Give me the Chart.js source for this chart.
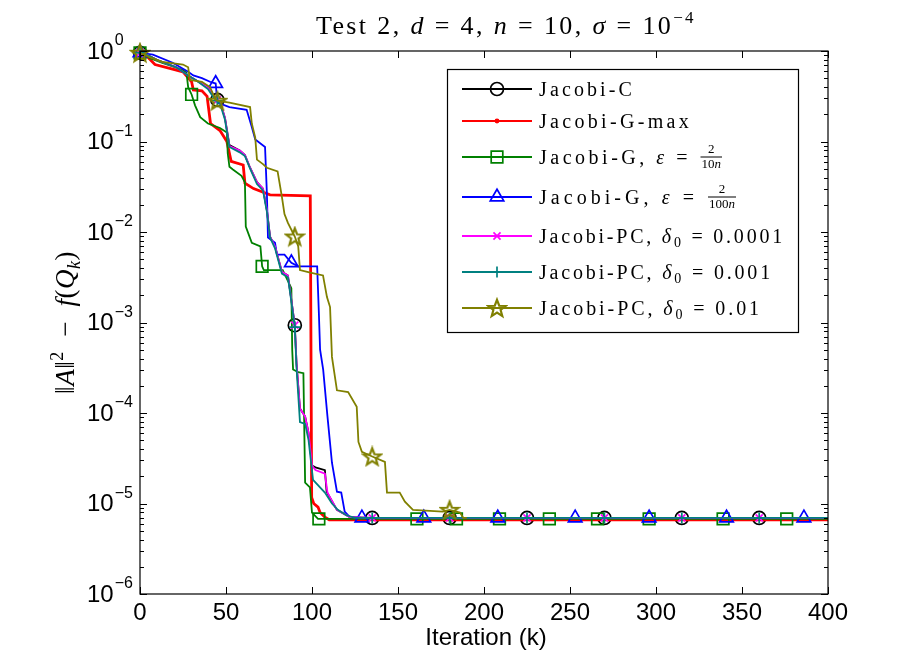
<!DOCTYPE html>
<html><head><meta charset="utf-8">
<script src="https://cdn.jsdelivr.net/npm/chart.js@4.4.1/dist/chart.umd.min.js"></script>
<style>html,body{margin:0;padding:0;background:#fff;overflow:hidden}canvas{display:block}</style>
</head><body>
<canvas id="c" width="917" height="667"></canvas>
<script>
// ---------- data ----------
const xTicks = [0, 50, 100, 150, 200, 250, 300, 350, 400];
const yTicks = [1, 1e-1, 1e-2, 1e-3, 1e-4, 1e-5, 1e-6];
const yTickExps = ['0', '\u22121', '\u22122', '\u22123', '\u22124', '\u22125', '\u22126'];
const seriesNames = ['Jacobi-C', 'Jacobi-G-max', 'Jacobi-G, \u03b5 = 2/(10n)', 'Jacobi-G, \u03b5 = 2/(100n)',
  'Jacobi-PC, \u03b40 = 0.0001', 'Jacobi-PC, \u03b40 = 0.001', 'Jacobi-PC, \u03b40 = 0.01'];

const jcIter = [0,5,10,21,28,33,39.5,43,45,46.5,49.4,52,58,61,64,68,71.5,73.8,75.6,78.5,82.5,86,88,90,91,93,96,98,100,102,107.5,108.5,114.5,122,135,180,225,270,315,360,400];
const jcVal  = [0.955,0.891,0.794,0.661,0.537,0.468,0.398,0.316,0.288,0.275,0.182,0.0912,0.0794,0.0708,0.0513,0.0355,0.0302,0.0174,0.00891,0.00692,0.00363,0.00331,0.00178,9.33e-4,3.55e-4,1.12e-4,9.12e-5,6.03e-5,2.63e-5,2.51e-5,2.34e-5,1.35e-5,8.51e-6,7.08e-6,6.92e-6,6.92e-6,6.92e-6,6.92e-6,6.92e-6,6.92e-6,6.92e-6];
const jcMarks = [0,45,90,135,180,225,270,315,360];

const rdIter = [0,3,8.7,25,30,31,36,39,41,46.5,50.5,53,60,61,66,75.6,99,99.8,101,103.5,104.7,107.5,110,400];
const rdVal  = [0.955,0.912,0.708,0.589,0.457,0.372,0.363,0.316,0.158,0.132,0.1,0.0603,0.0550,0.0347,0.0302,0.0257,0.0251,1.17e-5,1.0e-5,9.12e-6,7.94e-6,7.08e-6,6.61e-6,6.61e-6];

const grIter = [0,5.8,13,25,27,28,30,32,35,39.5,46.5,50.5,51,52,54,59,61,61.5,65,70,71,72,83,85,88,88.5,89,92,95,96,98.8,100,103.5,104,161,184,209,238,266,296,339,376,400];
const grVal  = [0.955,0.832,0.741,0.617,0.575,0.398,0.331,0.251,0.186,0.158,0.141,0.126,0.0741,0.0525,0.0490,0.0417,0.0355,0.0115,0.00759,0.00692,0.00417,0.00380,0.00380,0.00316,0.00240,5.01e-4,3.02e-4,2.82e-4,2.75e-4,1.70e-5,1.51e-5,7.94e-6,6.76e-6,6.76e-6,6.76e-6,6.76e-6,6.76e-6,6.76e-6,6.76e-6,6.76e-6,6.76e-6,6.76e-6,6.76e-6];
const grMarks = [0,30,71,104,161,184,209,238,266,296,339,376];

const blIter = [0,7.5,19,28,31,36,40.7,44,45,52,62,65,67,72.7,73.8,74.4,78.5,79.6,84,88,92,103,104,104.7,106.5,109,111.6,114.5,117,119,122,129,165,208,253,296,341,386,400];
const blVal  = [0.955,0.912,0.741,0.589,0.537,0.501,0.457,0.437,0.269,0.240,0.224,0.145,0.105,0.0871,0.0257,0.00871,0.00759,0.00562,0.00562,0.00457,0.00417,0.00417,0.00126,5.01e-4,3.02e-4,9.12e-5,2.82e-5,1.35e-5,1.32e-5,8.13e-6,7.08e-6,6.92e-6,6.92e-6,6.92e-6,6.92e-6,6.92e-6,6.92e-6,6.92e-6,6.92e-6];
const blMarks = [0,44,88,129,165,208,253,296,341,386];

const mgIter = [0,5,10,21,28,33,39.5,43,45,46.5,49.4,52,58,61,64,68,71.5,73.8,75.6,78.5,82.5,86,88,90,91,93,96,98,100,102,107.5,109,114.5,122,135,180,225,270,315,360,400];
const mgVal  = [0.955,0.891,0.794,0.661,0.537,0.468,0.398,0.316,0.288,0.275,0.182,0.0891,0.0794,0.0708,0.0513,0.0355,0.0302,0.0174,0.00891,0.00692,0.00363,0.00331,0.00178,9.33e-4,3.55e-4,1.12e-4,9.12e-5,6.03e-5,2.63e-5,2.34e-5,2.14e-5,1.32e-5,8.51e-6,7.08e-6,6.92e-6,6.92e-6,6.92e-6,6.92e-6,6.92e-6,6.92e-6,6.92e-6];
const mgMarks = [0,45,90,135,180,225,270,315,360];

const tlIter = [0,5,10,21,28,33,39.5,43,45,46.5,49.4,52,58,61,64,68,71.5,73.8,75.6,78.5,82.5,86,88,90,91,93,96,98,100.6,107.5,111.6,115,120,125,135,180,225,270,315,360,400];
const tlVal  = [0.955,0.891,0.794,0.661,0.537,0.468,0.380,0.302,0.282,0.263,0.174,0.0871,0.0759,0.0692,0.0501,0.0339,0.0288,0.0166,0.00871,0.00661,0.00347,0.00316,0.00170,8.91e-4,3.16e-4,7.94e-5,7.59e-5,5.01e-5,1.82e-5,1.32e-5,1.0e-5,8.51e-6,7.41e-6,6.92e-6,6.92e-6,6.92e-6,6.92e-6,6.92e-6,6.92e-6,6.92e-6,6.92e-6];
const tlMarks = [0,45,90,135,180,225,270,315,360];

const olIter = [0,5.8,13,25,28,29,36,40.7,44,45,52,64,65,67,68,71.5,73.8,80,82.5,84,86,90,92,93,99,106.4,108.7,110.5,111.6,114.5,121,126,127,129,135,142.4,143.6,151,154,158.7,176,180,186,188,190];
const olVal  = [0.955,0.851,0.759,0.708,0.661,0.479,0.457,0.398,0.288,0.282,0.269,0.240,0.158,0.110,0.0631,0.0562,0.0513,0.0468,0.0245,0.0158,0.0126,0.00891,0.00692,0.00380,0.00355,0.00331,0.00191,0.00148,4.17e-4,1.78e-4,1.70e-4,1.17e-4,4.79e-5,3.72e-5,3.31e-5,2.88e-5,1.32e-5,1.32e-5,1.05e-5,8.51e-6,8.13e-6,8.51e-6,7.94e-6,6.92e-6,6.92e-6];
const olMarks = [0,45,90,135,180];

// ---------- styling ----------
const SERIF = '"Liberation Serif","DejaVu Serif",serif';
const SANS = '"Liberation Sans",Arial,sans-serif';
const C = {k:'#000000', r:'#ff0000', g:'#008000', b:'#0000ff', m:'#ff00ff', t:'#008080', o:'#808000'};

const starImg = (() => {
  const c = document.createElement('canvas'); c.width = 22; c.height = 22;
  const g = c.getContext('2d');
  g.strokeStyle = C.o; g.lineWidth = 2.2; g.lineJoin = 'miter';
  g.beginPath();
  for (let i = 0; i < 10; i++) {
    const r = i % 2 === 0 ? 9 : 3.8;
    const a = -Math.PI / 2 + i * Math.PI / 5;
    const px = 11 + r * Math.cos(a), py = 11.8 + r * Math.sin(a);
    i ? g.lineTo(px, py) : g.moveTo(px, py);
  }
  g.closePath(); g.stroke();
  return c;
})();

const pts = (xs, ys) => xs.map((x, i) => ({x, y: ys[i]}));
const mark = (marks, r) => ctx => (ctx.raw && marks.includes(ctx.raw.x)) ? r : 0;

const styles = [
  {color:C.k, style:'circle', r:6.5, lw:1.8, order:7},
  {color:C.r, style:'circle', r:1.6, lw:2.8, order:6, filled:true},
  {color:C.g, style:'rect', r:8.2, lw:1.8, order:5},
  {color:C.b, style:'triangle', r:7.8, lw:1.8, order:4},
  {color:C.m, style:'crossRot', r:5, lw:1.8, order:3},
  {color:C.t, style:'cross', r:5.5, lw:1.8, order:2},
  {color:C.o, style:starImg, r:9, lw:1.8, order:1},
];
const series = [
  [jcIter, jcVal, jcMarks], [rdIter, rdVal, null], [grIter, grVal, grMarks], [blIter, blVal, blMarks],
  [mgIter, mgVal, mgMarks], [tlIter, tlVal, tlMarks], [olIter, olVal, olMarks]
];

const datasets = series.map((s, i) => {
  const st = styles[i];
  return {
    label: seriesNames[i],
    data: pts(s[0], s[1]),
    borderColor: st.color,
    backgroundColor: st.filled ? st.color : 'rgba(0,0,0,0)',
    borderWidth: st.lw,
    pointStyle: st.style,
    pointRadius: s[2] ? mark(s[2], st.r) : 0,
    pointBorderColor: st.color,
    pointBackgroundColor: 'rgba(0,0,0,0)',
    pointBorderWidth: 1.7,
    tension: 0,
    clip: false,
    order: st.order,
  };
});

// ---------- rich text helper ----------
function runsWidth(ctx, runs, extra) {
  let w = 0, n = 0;
  for (const r of runs) {
    if (r.frac) {
      ctx.font = r.font; ctx.letterSpacing = '0px';
      const wn = ctx.measureText(r.num).width;
      let wd = 0;
      for (const d of r.den) { ctx.font = d.font; wd += ctx.measureText(d.t).width; }
      r.w = Math.max(wn, wd) + 4; r.wn = wn; r.wd = wd;
    } else {
      ctx.font = r.font; ctx.letterSpacing = (extra || 0) + 'px';
      r.w = ctx.measureText(r.t).width;
      n += [...r.t].length;
    }
    w += r.w;
  }
  ctx.letterSpacing = '0px';
  return {w, n};
}
function drawRuns(ctx, runs, x, y, align, target, fixedLs) {
  let ls = fixedLs || 0;
  if (target) {
    const m = runsWidth(ctx, runs, 0);
    ls = Math.max(0, (target - m.w) / m.n);
  }
  const w = runsWidth(ctx, runs, ls).w;
  let cx = align === 'center' ? x - w / 2 : x;
  ctx.textBaseline = 'alphabetic'; ctx.textAlign = 'left';
  for (const r of runs) {
    if (r.frac) {
      ctx.letterSpacing = '0px';
      ctx.font = r.font;
      ctx.fillText(r.num, cx + (r.w - r.wn) / 2, y - 11);
      ctx.fillRect(cx + 1, y - 7.5, r.w - 2, 1);
      let dx = cx + (r.w - r.wd) / 2;
      for (const d of r.den) { ctx.font = d.font; ctx.fillText(d.t, dx, y + 4); dx += ctx.measureText(d.t).width; }
    } else {
      ctx.font = r.font; ctx.letterSpacing = ls + 'px';
      ctx.fillText(r.t, cx, y + (r.dy || 0));
    }
    cx += r.w;
  }
  ctx.letterSpacing = '0px';
}

const LF = '20px ' + SERIF, LFi = 'italic 20px ' + SERIF, LSub = '14px ' + SERIF;
const fr = (num, den) => ({frac:true, font:'13px ' + SERIF, num,
  den:[{t:den, font:'13px ' + SERIF}, {t:'n', font:'italic 13px ' + SERIF}]});
const legendRuns = [
  [{t:'Jacobi-C', font:LF}],
  [{t:'Jacobi-G-max', font:LF}],
  [{t:'Jacobi-G, ', font:LF}, {t:'\u03b5', font:LFi}, {t:' = ', font:LF}, fr('2', '10')],
  [{t:'Jacobi-G, ', font:LF}, {t:'\u03b5', font:LFi}, {t:' = ', font:LF}, fr('2', '100')],
  [{t:'Jacobi-PC, ', font:LF}, {t:'\u03b4', font:LFi}, {t:'0', font:LSub, dy:4}, {t:' = 0.0001', font:LF}],
  [{t:'Jacobi-PC, ', font:LF}, {t:'\u03b4', font:LFi}, {t:'0', font:LSub, dy:4}, {t:' = 0.001', font:LF}],
  [{t:'Jacobi-PC, ', font:LF}, {t:'\u03b4', font:LFi}, {t:'0', font:LSub, dy:4}, {t:' = 0.01', font:LF}],
];
const legendTargets = [96, 153, 184, 198, 246, 234, 223];
const legendY = [89, 121, 157, 197, 236, 272, 308];

const TF = '26px ' + SERIF, TFi = 'italic 26px ' + SERIF;
const titleRuns = [
  {t:'Test 2, ', font:TF}, {t:'d', font:TFi}, {t:' = 4, ', font:TF},
  {t:'n', font:TFi}, {t:' = 10, ', font:TF}, {t:'\u03c3', font:TFi},
  {t:' = 10', font:TF}, {t:'\u22124', font:'17px ' + SERIF, dy:-11}
];
const YF = '27px ' + SERIF, YFi = 'italic 27px ' + SERIF;
const ylabelRuns = [
  {t:'\u2016', font:YF}, {t:'A', font:YFi}, {t:'\u2016', font:YF},
  {t:'2', font:'18px ' + SERIF, dy:-11}, {t:'  \u2212  ', font:YF}, {t:'f', font:YFi},
  {t:'(', font:YF}, {t:'Q', font:YFi}, {t:'k', font:'italic 18px ' + SERIF, dy:6}, {t:')', font:YF}
];

const deco = {
  id: 'deco',
  afterDatasetsDraw(chart) {
    const ctx = chart.ctx, a = chart.chartArea, xs = chart.scales.x, ys = chart.scales.y;
    ctx.save();
    ctx.strokeStyle = '#000'; ctx.lineWidth = 1.2;
    ctx.strokeRect(a.left, a.top, a.right - a.left, a.bottom - a.top);
    ctx.lineWidth = 1;
    ctx.beginPath();
    for (const v of xTicks) {
      const px = Math.round(xs.getPixelForValue(v)) + 0.5;
      ctx.moveTo(px, a.bottom); ctx.lineTo(px, a.bottom - 7);
      ctx.moveTo(px, a.top); ctx.lineTo(px, a.top + 7);
    }
    for (const d of yTicks) {
      const py = Math.round(ys.getPixelForValue(d)) + 0.5;
      ctx.moveTo(a.left, py); ctx.lineTo(a.left + 7, py);
      ctx.moveTo(a.right, py); ctx.lineTo(a.right - 7, py);
    }
    for (let i = 1; i < yTicks.length; i++) {
      const d = yTicks[i];
      for (let m = 2; m <= 9; m++) {
        const py = Math.round(ys.getPixelForValue(d * m)) + 0.5;
        ctx.moveTo(a.left, py); ctx.lineTo(a.left + 4, py);
        ctx.moveTo(a.right, py); ctx.lineTo(a.right - 4, py);
      }
    }
    ctx.stroke();

    ctx.fillStyle = '#000';
    ctx.font = '24px ' + SANS; ctx.textAlign = 'center'; ctx.textBaseline = 'middle';
    for (const v of xTicks) ctx.fillText(String(v), xs.getPixelForValue(v), a.bottom + 19);
    ctx.fillText('Iteration (k)', (a.left + a.right) / 2 + 2, a.bottom + 44);

    for (let i = 0; i < yTicks.length; i++) {
      const py = ys.getPixelForValue(yTicks[i]);
      ctx.textAlign = 'left'; ctx.textBaseline = 'middle';
      ctx.font = '24px ' + SANS;
      ctx.fillText('10', 87, py + 1);
      const w = ctx.measureText('10').width;
      ctx.font = '16px ' + SANS;
      ctx.fillText(yTickExps[i], 87 + w + 1, py - 10);
    }
    ctx.restore();
  },
  afterDraw(chart) {
    const ctx = chart.ctx, a = chart.chartArea;
    ctx.save();
    ctx.fillStyle = '#000';
    drawRuns(ctx, titleRuns, 506, 34, 'center', 380);

    ctx.save();
    ctx.translate(66, (a.top + a.bottom) / 2);
    ctx.rotate(-Math.PI / 2);
    drawRuns(ctx, ylabelRuns, 0, 8, 'center', 0, 0.5);
    ctx.restore();

    // legend
    ctx.fillStyle = '#fff';
    ctx.fillRect(447, 69, 351, 263);
    ctx.strokeStyle = '#000'; ctx.lineWidth = 1.2;
    ctx.strokeRect(447.5, 69.5, 351, 263);
    for (let i = 0; i < styles.length; i++) {
      const st = styles[i], y = legendY[i];
      ctx.strokeStyle = st.color; ctx.lineWidth = i === 1 ? 2.2 : st.lw;
      ctx.beginPath(); ctx.moveTo(462, y); ctx.lineTo(532, y); ctx.stroke();
      ctx.lineWidth = 1.7;
      ctx.fillStyle = st.filled ? st.color : 'rgba(0,0,0,0)';
      Chart.helpers.drawPoint(ctx, {pointStyle: st.style, radius: st.r, rotation: 0, borderWidth: 1.7}, 497, y);
      ctx.fillStyle = '#000';
      drawRuns(ctx, legendRuns[i], 539, y + 7, 'left', legendTargets[i]);
    }
    ctx.restore();
  }
};

new Chart(document.getElementById('c'), {
  type: 'line',
  data: {datasets},
  options: {
    responsive: false,
    animation: false,
    devicePixelRatio: 1,
    layout: {padding: {left: 140, right: 89, top: 51, bottom: 73}},
    scales: {
      x: {type: 'linear', min: 0, max: 400, display: false},
      y: {type: 'logarithmic', min: 1e-6, max: 1, display: false}
    },
    plugins: {legend: {display: false}, tooltip: {enabled: false}, title: {display: false}},
    elements: {line: {borderJoinStyle: 'miter'}}
  },
  plugins: [deco]
});
</script>
</body></html>
